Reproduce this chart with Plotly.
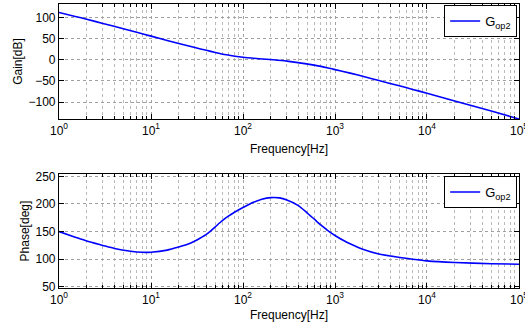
import plotly.graph_objects as go

# Gain data
gain_freq = [1, 1.5, 2, 3, 5, 7, 10, 15, 20, 30, 40, 50, 66, 100, 150, 213, 300, 490, 700,
             950, 1500, 2000, 3000, 5000, 7000, 10000, 20000, 50000, 100000]
gain_db = [112, 102.5, 96, 86, 73.5, 65, 56, 45.5, 38.5, 29, 22.5, 17.5, 12, 6, 2.5, 0, -3, -9.5, -15.5,
           -22, -32, -39, -49, -61.5, -70, -79, -97.5, -121, -140]

# Phase data
phase_freq = [1, 1.5, 2, 3, 4, 6, 8, 10, 15, 20, 25, 30, 34, 40, 44, 50, 56, 63, 70, 80, 100,
              130, 160, 200, 250, 300, 400, 490, 600, 700, 850, 1000, 1300, 1500, 2000, 3000,
              4700, 7000, 10000, 20000, 50000, 100000]
phase_deg = [150, 140, 133, 125, 119.5, 114.5, 112.6, 112.8, 116.5, 122, 127, 133, 138, 145,
             150.5, 158.5, 166, 173, 178.5, 184.5, 193.5, 203, 208.5, 211.5, 211, 207, 197, 185,
             172, 162, 151, 143, 132, 127, 118, 109.5, 104, 100, 97, 94, 92, 91]

series_name = "G<sub>op2</sub>"
xtick_vals = [1, 10, 100, 1000, 10000, 100000]
xtick_text = ["10<sup>0</sup>", "10<sup>1</sup>", "10<sup>2</sup>", "10<sup>3</sup>",
              "10<sup>4</sup>", "10<sup>5</sup>"]
minor_vals = [m * 10 ** d for d in range(5) for m in range(2, 10)]
gain_ticks = [-100, -50, 0, 50, 100]
phase_ticks = [50, 100, 150, 200, 250]

FONT = "Liberation Sans, Arial, Helvetica, sans-serif"
BLUE = "rgb(0,0,255)"

fig = go.Figure()
fig.add_trace(go.Scatter(x=gain_freq, y=gain_db, mode="lines", name=series_name,
                         line=dict(color=BLUE, width=1.6, shape="spline", smoothing=0.6),
                         xaxis="x", yaxis="y", legend="legend"))
fig.add_trace(go.Scatter(x=phase_freq, y=phase_deg, mode="lines", name=series_name,
                         line=dict(color=BLUE, width=1.6, shape="spline", smoothing=0.6),
                         xaxis="x2", yaxis="y2", legend="legend2"))

axcommon = dict(showline=True, linecolor="black", linewidth=1.2, mirror="allticks",
                ticks="inside", ticklen=5, tickcolor="black", zeroline=False,
                tickfont=dict(family=FONT, size=12, color="black"),
                showgrid=True, gridcolor="rgb(160,160,160)", griddash="dot", gridwidth=1)

tfont = dict(family=FONT, size=12, color="black")

def xaxis_cfg(standoff):
    return dict(type="log", range=[-0.0002, 5.0002], tickmode="array", tickvals=xtick_vals,
                ticktext=xtick_text, ticklabeloverflow="allow",
                minor=dict(tickmode="array", tickvals=minor_vals, ticks="inside", ticklen=3,
                           tickcolor="black", showgrid=True, gridcolor="rgb(185,185,185)",
                           griddash="dot", gridwidth=1),
                title=dict(text="Frequency[Hz]", font=tfont, standoff=standoff),
                **axcommon)

fig.update_layout(
    width=525, height=327,
    margin=dict(l=59, r=6, t=4, b=39, autoexpand=False),
    paper_bgcolor="white", plot_bgcolor="white",
    font=dict(family=FONT, size=12, color="black"),
    xaxis=dict(domain=[0, 1], anchor="y", **xaxis_cfg(8)),
    yaxis=dict(domain=[0.595, 1], anchor="x", range=[-140, 132], tickmode="array",
               tickvals=gain_ticks, title=dict(text="Gain[dB]", font=tfont, standoff=3),
               **axcommon),
    xaxis2=dict(domain=[0, 1], anchor="y2", **xaxis_cfg(5)),
    yaxis2=dict(domain=[0, 0.401], anchor="x2", range=[48, 254], tickmode="array",
                tickvals=phase_ticks, title=dict(text="Phase[deg]", font=tfont, standoff=3),
                **axcommon),
    legend=dict(x=0.996, y=0.9965, xanchor="right", yanchor="top", xref="paper", yref="paper",
                bgcolor="white", bordercolor="black", borderwidth=1,
                font=dict(family=FONT, size=13, color="black"), itemwidth=30),
    legend2=dict(x=0.996, y=0.394, xanchor="right", yanchor="top", xref="paper", yref="paper",
                 bgcolor="white", bordercolor="black", borderwidth=1,
                 font=dict(family=FONT, size=13, color="black"), itemwidth=30),
    showlegend=True,
)

fig.write_html("out.html", config={"displayModeBar": False},
               post_script="document.body.style.margin='0px';document.body.style.overflow='hidden';")
